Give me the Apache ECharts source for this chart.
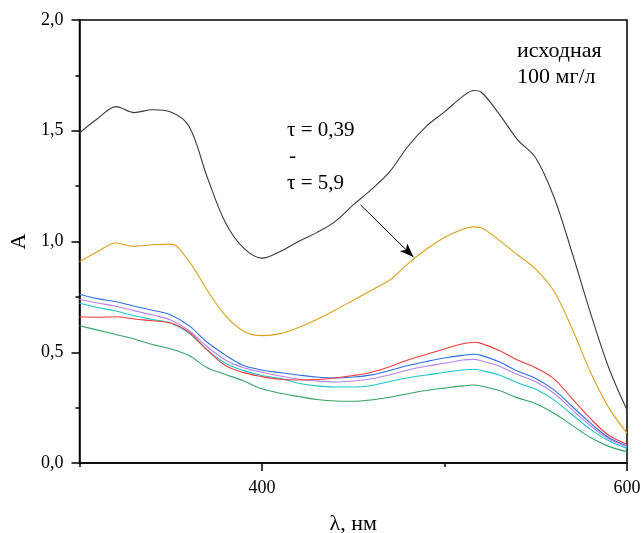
<!DOCTYPE html>
<html>
<head>
<meta charset="utf-8">
<script src="https://cdn.jsdelivr.net/npm/echarts@6/dist/echarts.min.js"></script>
<style>html,body{margin:0;padding:0;background:#fff}#c{width:643px;height:533px}</style>
</head>
<body>
<div id="c"></div>
<script>
const wavelengths = [300,310,320,330,340,350,360,370,380,390,400,410,420,430,440,450,460,470,480,490,500,510,516,520,530,540,550,560,570,580,590,600];

const initial   = [1.49,1.555,1.609,1.582,1.595,1.585,1.52,1.29,1.085,0.97,0.925,0.955,1.0,1.04,1.09,1.165,1.235,1.315,1.43,1.52,1.585,1.655,1.682,1.675,1.575,1.46,1.377,1.2,0.947,0.677,0.43,0.239];
const orange    = [0.908,0.955,0.993,0.978,0.985,0.988,0.91,0.78,0.665,0.595,0.575,0.584,0.612,0.648,0.69,0.735,0.78,0.826,0.9,0.965,1.018,1.055,1.066,1.062,1.005,0.94,0.875,0.775,0.605,0.41,0.25,0.135];
const blue      = [0.762,0.742,0.728,0.708,0.69,0.668,0.62,0.545,0.487,0.44,0.42,0.408,0.397,0.388,0.384,0.388,0.398,0.418,0.44,0.458,0.474,0.486,0.491,0.486,0.457,0.415,0.382,0.33,0.255,0.18,0.115,0.077];
const purple    = [0.738,0.722,0.708,0.688,0.668,0.646,0.598,0.525,0.465,0.43,0.41,0.393,0.378,0.37,0.366,0.37,0.38,0.398,0.42,0.437,0.45,0.465,0.468,0.462,0.437,0.4,0.367,0.315,0.24,0.168,0.108,0.074];
const cyan      = [0.721,0.702,0.686,0.665,0.648,0.632,0.585,0.51,0.45,0.417,0.395,0.382,0.36,0.348,0.343,0.343,0.35,0.368,0.385,0.397,0.41,0.42,0.423,0.418,0.397,0.362,0.333,0.285,0.218,0.152,0.1,0.066];
const red       = [0.66,0.658,0.66,0.65,0.642,0.632,0.59,0.51,0.44,0.408,0.39,0.378,0.375,0.377,0.384,0.395,0.41,0.435,0.465,0.49,0.515,0.538,0.545,0.54,0.508,0.465,0.43,0.38,0.29,0.2,0.125,0.085];
const green     = [0.62,0.6,0.58,0.56,0.535,0.515,0.485,0.43,0.4,0.37,0.335,0.315,0.3,0.287,0.28,0.279,0.285,0.297,0.313,0.327,0.338,0.348,0.352,0.348,0.327,0.294,0.268,0.225,0.17,0.115,0.075,0.051];

const xMajorTicks = [400, 600];
const xMinorTicks = [300, 500];
const arrowFrom = [454, 1.165];
const arrowTo = [483, 0.93];

const FONT = 'Liberation Serif';
const chart = echarts.init(document.getElementById('c'), null, {renderer: 'canvas'});

function pairs(vals){ return wavelengths.map((w,i)=>[w, vals[i]]); }
function line(name, vals, color){
  return {name, type:'line', data: pairs(vals), smooth: 0.35, showSymbol:false, symbol:'none',
    lineStyle:{color, width:1.1}, itemStyle:{color}, z: 3};
}

const series = [
  line('исходная', initial, '#3a3a3a'),
  line('s2', orange, '#D9A21B'),
  line('s3', blue, '#2f6fe0'),
  line('s4', purple, '#b484e6'),
  line('s5', cyan, '#1cc6c9'),
  line('s6', red, '#f03c3c'),
  line('s7', green, '#36a466')
];
series[0].markLine = {
  silent: true, symbol: ['none','arrow'], symbolSize: [8, 14],
  label: {show:false},
  lineStyle: {color:'#000', width:1, type:'solid'},
  data: [[{coord: arrowFrom}, {coord: arrowTo}]]
};

chart.setOption({
  animation: false,
  backgroundColor: '#fff',
  grid: {left: 79.5, right: 16, top: 20, bottom: 70, show: true, borderColor: '#000', borderWidth: 1.5,
    containLabel: false, outerBoundsMode: 'none'},
  xAxis: [{
    type: 'value', min: 300, max: 600, interval: 100,
    name: 'λ, нм', nameLocation: 'middle', nameGap: 50,
    nameTextStyle: {fontFamily: FONT, fontSize: 22, color: '#000'},
    axisLine: {show: true, lineStyle: {color: '#000', width: 1.5}},
    axisTick: {show: true, customValues: xMajorTicks, length: 8, lineStyle: {color: '#000', width: 1.5}},
    axisLabel: {customValues: xMajorTicks, fontFamily: FONT, fontSize: 18, color: '#000', margin: 16},
    splitLine: {show: false}
  }, {
    type: 'value', min: 300, max: 600, position: 'bottom',
    axisLine: {show: false},
    axisTick: {show: true, customValues: xMinorTicks, length: 4, lineStyle: {color: '#000', width: 1.5}},
    axisLabel: {show: false},
    splitLine: {show: false}
  }],
  yAxis: {
    type: 'value', min: 0, max: 2, interval: 0.5,
    name: 'A', nameLocation: 'middle', nameGap: 49,
    nameTextStyle: {fontFamily: FONT, fontSize: 22, color: '#000'},
    axisLine: {show: true, lineStyle: {color: '#000', width: 1.5}},
    axisTick: {show: true, length: 8, lineStyle: {color: '#000', width: 1.5}},
    minorTick: {show: true, splitNumber: 2, length: 4, lineStyle: {color: '#000', width: 1.5}},
    axisLabel: {fontFamily: FONT, fontSize: 18, color: '#000', margin: 16,
      formatter: v => v.toFixed(1).replace('.', ',')},
    splitLine: {show: false}
  },
  graphic: [
    {type:'text', left: 517, top: 40, style:{text:'исходная', font:'22px "Liberation Serif"', fill:'#000'}},
    {type:'text', left: 517, top: 66, style:{text:'100 мг/л', font:'22px "Liberation Serif"', fill:'#000'}},
    {type:'text', left: 287, top: 120, style:{text:'τ = 0,39', font:'21px "Liberation Serif"', fill:'#000'}},
    {type:'text', left: 289, top: 146, style:{text:'-', font:'21px "Liberation Serif"', fill:'#000'}},
    {type:'text', left: 287, top: 173, style:{text:'τ = 5,9', font:'21px "Liberation Serif"', fill:'#000'}}
  ],
  series
});
</script>
</body>
</html>
